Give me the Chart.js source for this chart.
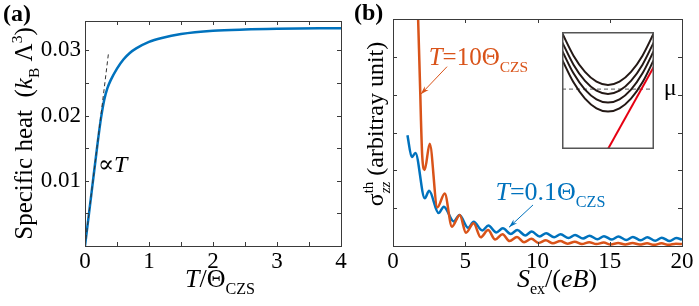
<!DOCTYPE html>
<html>
<head>
<meta charset="utf-8">
<script src="https://cdn.jsdelivr.net/npm/chart.js@4/dist/chart.umd.min.js"></script>
<style>
  body { margin: 0; background: #fff; }
  #wrap { position: relative; width: 699px; height: 306px; }
  canvas { position: absolute; }
</style>
</head>
<body>
<div id="wrap">
  <canvas id="chartA" width="349" height="306" style="left:0;top:0"></canvas>
  <canvas id="chartB" width="350" height="306" style="left:349px;top:0"></canvas>
  <canvas id="inset" width="92" height="117" style="left:562px;top:32px"></canvas>
</div>
<script>
// panel (a): specific heat vs T/Theta_CZS
const tempA = [0, 0.1, 0.2, 0.25, 0.3, 0.35, 0.4, 0.5, 0.6, 0.7, 0.8, 1.0, 1.2, 1.5, 2.0, 2.5, 3.0, 4.0];
const heatA = [0, 0.0080, 0.0160, 0.0196, 0.0224, 0.0242, 0.0254, 0.0272, 0.0286, 0.0296, 0.0303, 0.0313, 0.0319, 0.0325, 0.0330, 0.0332, 0.0333, 0.0334];
const linT = [0, 0.37];
const linC = [0, 0.0298];
const xTicksA = [0, 1, 2, 3, 4];
const xMinorA = [0.5, 1.5, 2.5, 3.5];
const yTicksA = [0.01, 0.02, 0.03];
const yMinorA = [0.005, 0.015, 0.025];

// panel (b): sigma_zz^th vs S_ex/(eB)
const coldS = [1.0, 1.3, 1.55, 2.2, 2.5, 3.15, 3.52, 4.2, 4.6, 5.2, 5.58, 6.18, 6.6, 7.15, 7.6, 8.15, 8.6, 9.15, 9.6, 10.15, 10.6, 11.15, 11.6, 12.15, 12.6, 13.15, 13.6, 14.15, 14.6, 15.15, 15.6, 16.15, 16.6, 17.15, 17.6, 18.15, 18.6, 19.15, 19.6, 20];
const coldV = [2.93, 2.35, 2.46, 1.26, 1.46, 0.87, 1.04, 0.65, 0.82, 0.48, 0.64, 0.41, 0.54, 0.36, 0.47, 0.32, 0.42, 0.28, 0.38, 0.25, 0.34, 0.23, 0.31, 0.21, 0.29, 0.20, 0.27, 0.18, 0.26, 0.17, 0.25, 0.16, 0.24, 0.15, 0.23, 0.14, 0.22, 0.13, 0.21, 0.17];
const hotS = [1.70, 1.80, 1.89, 1.93, 2.02, 2.19, 2.54, 3.07, 3.58, 4.08, 4.62, 5.05, 5.58, 6.07, 6.58, 7.07, 7.58, 8.07, 8.58, 9.07, 9.58, 10.07, 10.58, 11.07, 11.58, 12.07, 12.58, 13.07, 13.58, 14.07, 14.58, 15.07, 15.58, 16.07, 16.58, 17.07, 17.58, 18.07, 18.58, 19.07, 19.58, 20];
const hotV = [6.5, 5.2, 4.0, 3.4, 2.4, 2.01, 2.70, 1.02, 1.39, 0.51, 0.82, 0.35, 0.60, 0.23, 0.42, 0.17, 0.31, 0.13, 0.24, 0.10, 0.19, 0.08, 0.15, 0.07, 0.13, 0.06, 0.11, 0.05, 0.10, 0.05, 0.09, 0.04, 0.08, 0.04, 0.08, 0.04, 0.07, 0.03, 0.07, 0.03, 0.06, 0.05];
const xTicksB = [0, 5, 10, 15, 20];
const yTicksB = [1, 2, 3, 4, 5];

// inset: Landau levels, chemical potential and the red band
const insetK = [-1, -0.75, -0.5, -0.25, 0, 0.25, 0.5, 0.75, 1];
const band1 = [0.993, 0.798, 0.659, 0.576, 0.548, 0.576, 0.659, 0.798, 0.993];
const band2 = [0.916, 0.721, 0.582, 0.499, 0.471, 0.499, 0.582, 0.721, 0.916];
const band3 = [0.842, 0.647, 0.508, 0.425, 0.397, 0.425, 0.508, 0.647, 0.842];
const band4 = [0.765, 0.570, 0.431, 0.348, 0.320, 0.348, 0.431, 0.570, 0.765];
const muK = [-1, 1];
const muE = [0.512, 0.512];
const redK = [0, 1];
const redE = [0, 0.705];

const BLUE = '#0072BD';
const ORANGE = '#D95319';
const SERIF = '"Liberation Serif", "DejaVu Serif", serif';

const pts = (xs, ys) => xs.map((x, i) => ({ x: x, y: ys[i] }));

// rich text: runs of [text, flags]; i=italic, b=bold, s=sub, p=sup, k=keep x
function runFont(flags, size) {
  let fs = size;
  if (flags.includes('s') || flags.includes('p')) fs = size * 0.62;
  return (flags.includes('i') ? 'italic ' : '') + (flags.includes('b') ? 'bold ' : '') + fs + 'px ' + SERIF;
}
function runsWidth(ctx, runs, size) {
  let w = 0;
  runs.forEach(([t, f]) => {
    ctx.font = runFont(f, size);
    if (!f.includes('k')) w += ctx.measureText(t).width;
  });
  return w;
}
function drawRuns(ctx, runs, x, y, size, color) {
  ctx.fillStyle = color;
  ctx.textAlign = 'left';
  ctx.textBaseline = 'alphabetic';
  let cx = x;
  runs.forEach(([t, f]) => {
    let dy = 0;
    if (f.includes('s')) dy = size * 0.28;
    if (f.includes('p')) dy = -size * 0.42;
    ctx.font = runFont(f, size);
    ctx.fillText(t, cx, y + dy);
    if (!f.includes('k')) cx += ctx.measureText(t).width;
  });
}
function drawCentered(ctx, runs, cx, y, size, color) {
  drawRuns(ctx, runs, cx - runsWidth(ctx, runs, size) / 2, y, size, color);
}
function drawRotated(ctx, runs, x, cy, size, color) {
  ctx.save();
  ctx.translate(x, cy);
  ctx.rotate(-Math.PI / 2);
  drawRuns(ctx, runs, -runsWidth(ctx, runs, size) / 2, 0, size, color);
  ctx.restore();
}
function arrow(ctx, x0, y0, x1, y1, color) {
  const a = Math.atan2(y1 - y0, x1 - x0);
  ctx.save();
  ctx.strokeStyle = color;
  ctx.fillStyle = color;
  ctx.lineWidth = 1;
  ctx.beginPath();
  ctx.moveTo(x0, y0);
  ctx.lineTo(x1, y1);
  ctx.stroke();
  ctx.beginPath();
  ctx.moveTo(x1, y1);
  ctx.lineTo(x1 - 9 * Math.cos(a - 0.3), y1 - 9 * Math.sin(a - 0.3));
  ctx.lineTo(x1 - 6 * Math.cos(a), y1 - 6 * Math.sin(a));
  ctx.lineTo(x1 - 9 * Math.cos(a + 0.3), y1 - 9 * Math.sin(a + 0.3));
  ctx.closePath();
  ctx.fill();
  ctx.restore();
}

// box frame with inward ticks on all four sides
function frameTicks(xs, ys) {
  return {
    id: 'frameTicks',
    afterDatasetsDraw(chart) {
      const { ctx, chartArea: a, scales } = chart;
      ctx.save();
      ctx.strokeStyle = '#3a3a3a';
      ctx.lineWidth = 1;
      ctx.strokeRect(Math.round(a.left) + 0.5, Math.round(a.top) + 0.5, Math.round(a.right - a.left), Math.round(a.bottom - a.top));
      ctx.beginPath();
      xs.forEach(v => {
        const px = Math.round(scales.x.getPixelForValue(v)) + 0.5;
        ctx.moveTo(px, a.bottom); ctx.lineTo(px, a.bottom - 4);
        ctx.moveTo(px, a.top); ctx.lineTo(px, a.top + 4);
      });
      ys.forEach(v => {
        const py = Math.round(scales.y.getPixelForValue(v)) + 0.5;
        ctx.moveTo(a.left, py); ctx.lineTo(a.left + 4, py);
        ctx.moveTo(a.right, py); ctx.lineTo(a.right - 4, py);
      });
      ctx.stroke();
      ctx.restore();
    }
  };
}

const tickFont = { family: SERIF, size: 23 };

// ---------- panel (a)
new Chart(document.getElementById('chartA').getContext('2d'), {
  type: 'line',
  data: {
    datasets: [
      { data: pts(linT, linC), borderColor: '#333', borderWidth: 1, borderDash: [4, 3], pointRadius: 0 },
      { data: pts(tempA, heatA), borderColor: BLUE, borderWidth: 2.5, pointRadius: 0, cubicInterpolationMode: 'monotone' }
    ]
  },
  options: {
    responsive: false,
    animation: false,
    layout: { padding: { top: 21, right: 8, left: 0, bottom: 0 } },
    plugins: { legend: { display: false }, tooltip: { enabled: false } },
    scales: {
      x: {
        type: 'linear', min: 0, max: 4,
        grid: { display: false, drawTicks: false }, border: { display: false },
        afterBuildTicks: s => { s.ticks = xTicksA.map(v => ({ value: v })); },
        afterFit: s => { s.height = 60; },
        ticks: { font: tickFont, color: '#000', padding: 2, maxRotation: 0, callback: v => String(v) }
      },
      y: {
        type: 'linear', min: 0, max: 0.0345,
        grid: { display: false, drawTicks: false }, border: { display: false },
        afterBuildTicks: s => { s.ticks = yTicksA.map(v => ({ value: v })); },
        afterFit: s => { s.width = 85; },
        ticks: { font: tickFont, color: '#000', padding: 4, callback: v => v.toFixed(2) }
      }
    }
  },
  plugins: [
    frameTicks(xTicksA.concat(xMinorA), yTicksA.concat(yMinorA)),
    {
      id: 'labelsA',
      afterDraw(chart) {
        const { ctx, chartArea: a, scales } = chart;
        ctx.save();
        drawRuns(ctx, [['(a)', 'b']], 3, 21, 24, '#000');
        drawRotated(ctx, [['Specific heat  (', ''], ['k', 'i'], ['B', 's'], [' Λ', ''], ['3', 'p'], [')', '']], 32, (a.top + a.bottom) / 2, 25, '#000');
        drawCentered(ctx, [['T', 'i'], ['/Θ', ''], ['CZS', 's']], 220, 287, 26, '#000');
        drawRuns(ctx, [['∝', ''], ['T', 'i']], scales.x.getPixelForValue(0.2), scales.y.getPixelForValue(0.0113), 24, '#000');
        ctx.restore();
      }
    }
  ]
});

// ---------- panel (b)
new Chart(document.getElementById('chartB').getContext('2d'), {
  type: 'line',
  data: {
    datasets: [
      { data: pts(hotS, hotV), borderColor: ORANGE, borderWidth: 2.5, pointRadius: 0, cubicInterpolationMode: 'monotone' },
      { data: pts(coldS, coldV), borderColor: BLUE, borderWidth: 2.5, pointRadius: 0, cubicInterpolationMode: 'monotone' }
    ]
  },
  options: {
    responsive: false,
    animation: false,
    layout: { padding: { top: 19, right: 17, left: 0, bottom: 0 } },
    plugins: { legend: { display: false }, tooltip: { enabled: false } },
    scales: {
      x: {
        type: 'linear', min: 0, max: 20,
        grid: { display: false, drawTicks: false }, border: { display: false },
        afterBuildTicks: s => { s.ticks = xTicksB.map(v => ({ value: v })); },
        afterFit: s => { s.height = 60; },
        ticks: { font: tickFont, color: '#000', padding: 2, maxRotation: 0, callback: v => String(v) }
      },
      y: {
        type: 'linear', min: 0, max: 6,
        grid: { display: false, drawTicks: false }, border: { display: false },
        afterBuildTicks: s => { s.ticks = yTicksB.map(v => ({ value: v })); },
        afterFit: s => { s.width = 44; },
        ticks: { display: false }
      }
    }
  },
  plugins: [
    frameTicks(xTicksB, yTicksB),
    {
      id: 'labelsB',
      afterDraw(chart) {
        const { ctx, scales: { x, y } } = chart;
        ctx.save();
        drawRuns(ctx, [['(b)', 'b']], 5, 20, 24, '#000');
        drawRotated(ctx, [['σ', ''], ['th', 'pk'], ['zz', 'si'], [' (arbitray unit)', '']], 34, 124, 24, '#000');
        drawCentered(ctx, [['S', 'i'], ['ex', 's'], ['/(', ''], ['eB', 'i'], [')', '']], 208, 287, 26, '#000');
        drawRuns(ctx, [['T', 'i'], ['=10Θ', ''], ['CZS', 's']], x.getPixelForValue(2.47), y.getPixelForValue(4.79), 25, ORANGE);
        arrow(ctx, x.getPixelForValue(3.74), y.getPixelForValue(4.74), x.getPixelForValue(1.92), y.getPixelForValue(4.01), ORANGE);
        drawRuns(ctx, [['T', 'i'], ['=0.1Θ', ''], ['CZS', 's']], x.getPixelForValue(7.09), y.getPixelForValue(1.22), 26, BLUE);
        arrow(ctx, x.getPixelForValue(9.69), y.getPixelForValue(1.085), x.getPixelForValue(8.03), y.getPixelForValue(0.495), BLUE);
        drawRuns(ctx, [['μ', '']], x.getPixelForValue(18.73), y.getPixelForValue(3.99), 24, '#000');
        ctx.restore();
      }
    }
  ]
});

// ---------- inset
const bandStyle = { borderColor: '#231815', borderWidth: 2, pointRadius: 0, cubicInterpolationMode: 'monotone' };
new Chart(document.getElementById('inset').getContext('2d'), {
  type: 'line',
  data: {
    datasets: [
      { data: pts(redK, redE), borderColor: '#e60012', borderWidth: 2, pointRadius: 0 },
      Object.assign({ data: pts(insetK, band1) }, bandStyle),
      Object.assign({ data: pts(insetK, band2) }, bandStyle),
      Object.assign({ data: pts(insetK, band3) }, bandStyle),
      Object.assign({ data: pts(insetK, band4) }, bandStyle),
      { data: pts(muK, muE), borderColor: '#555', borderWidth: 1, borderDash: [4, 3], pointRadius: 0 }
    ]
  },
  options: {
    responsive: false,
    animation: false,
    layout: { padding: 0 },
    plugins: { legend: { display: false }, tooltip: { enabled: false } },
    scales: {
      x: { type: 'linear', min: -1, max: 1, display: false },
      y: { type: 'linear', min: 0, max: 1, display: false }
    }
  },
  plugins: [{
    id: 'insetFrame',
    afterDraw(chart) {
      const { ctx, chartArea: a } = chart;
      ctx.save();
      ctx.strokeStyle = '#555';
      ctx.lineWidth = 1.5;
      ctx.strokeRect(a.left + 0.75, a.top + 0.75, a.right - a.left - 1.5, a.bottom - a.top - 1.5);
      ctx.restore();
    }
  }]
});
</script>
</body>
</html>
